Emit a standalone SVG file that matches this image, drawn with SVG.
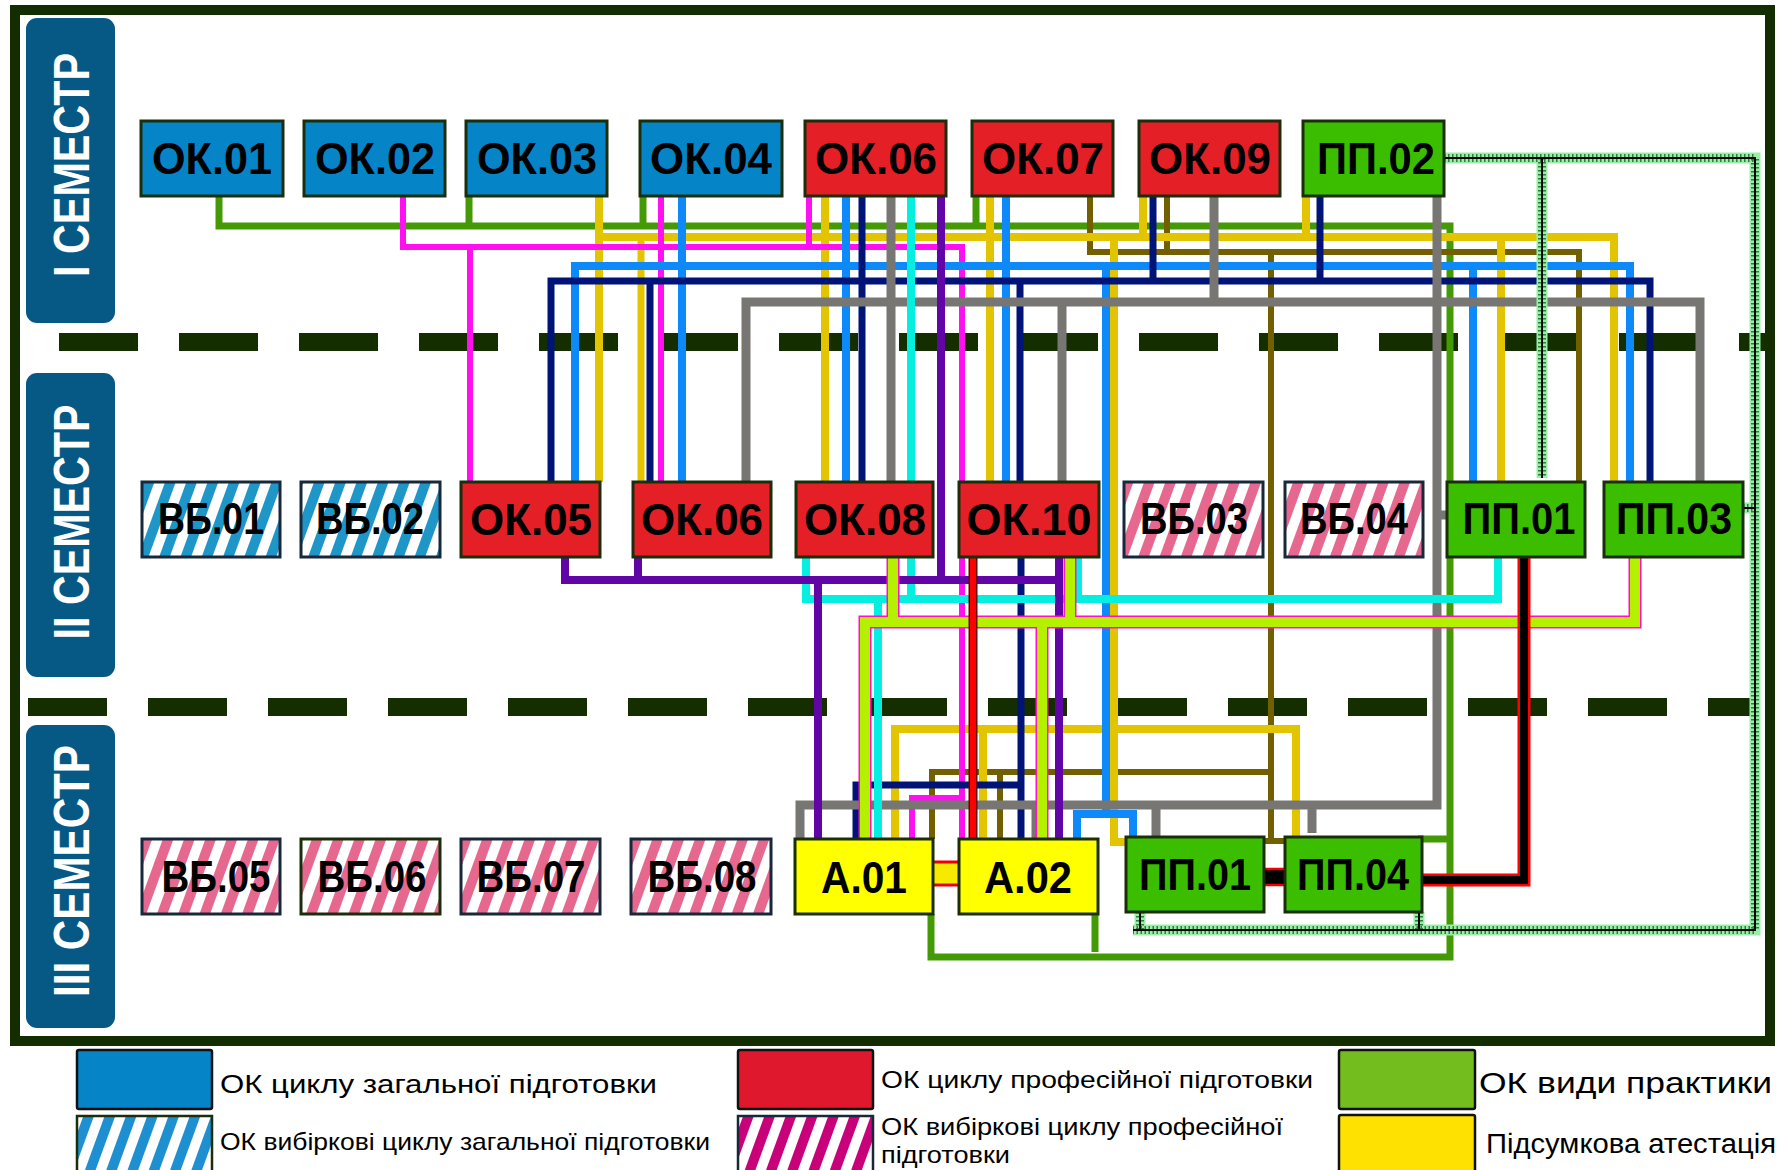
<svg xmlns="http://www.w3.org/2000/svg" width="1783" height="1170" viewBox="0 0 1783 1170">
<defs>
<pattern id="hb" patternUnits="userSpaceOnUse" width="20" height="20" patternTransform="rotate(20)"><rect width="20" height="20" fill="#fff"/><rect width="10" height="20" fill="#1e96c8"/></pattern>
<pattern id="hp" patternUnits="userSpaceOnUse" width="20" height="20" patternTransform="rotate(20)"><rect width="20" height="20" fill="#fff"/><rect width="10" height="20" fill="#e6688e"/></pattern>
<pattern id="hb2" patternUnits="userSpaceOnUse" width="20" height="20" patternTransform="rotate(20)"><rect width="20" height="20" fill="#fff"/><rect width="10" height="20" fill="#1e8fd0"/></pattern>
<pattern id="hm2" patternUnits="userSpaceOnUse" width="20" height="20" patternTransform="rotate(20)"><rect width="20" height="20" fill="#fff"/><rect width="10" height="20" fill="#c8007a"/></pattern>
</defs>
<style>
.box{stroke:#1b2e0b;stroke-width:3}
.bl{fill:#0584c8}.rd{fill:#e41f26}.gn{fill:#3cbe00}.yl{fill:#ffff00}
.vb{fill:url(#hb);stroke:#16283a;stroke-width:3}
.vp{fill:url(#hp);stroke:#16283a;stroke-width:3}
.lbl{font-family:"Liberation Sans",Arial,sans-serif;font-weight:bold;font-size:44px;fill:#000;text-anchor:middle}
.sem{fill:#075985}
.semt{font-family:"Liberation Sans",Arial,sans-serif;font-weight:bold;font-size:50px;fill:#fff;text-anchor:middle}
.dash{stroke:#152e00;stroke-width:18;stroke-dasharray:79 41;fill:none}
.ln{fill:none;stroke-linecap:butt;stroke-linejoin:miter}
.g{stroke:#449a04;stroke-width:7}
.m{stroke:#ff10f0;stroke-width:6}
.y{stroke:#e2c400;stroke-width:8}
.b{stroke:#0d89f9;stroke-width:8}
.n{stroke:#001478;stroke-width:7}
.gr{stroke:#777673;stroke-width:9}
.c{stroke:#05efe1;stroke-width:8}
.p{stroke:#6205a6;stroke-width:8}
.o{stroke:#726000;stroke-width:6}
.lo{stroke:#ff10c8;stroke-width:13}
.li{stroke:#b4f000;stroke-width:10}
.ro{stroke:#600;stroke-width:9}
.ri{stroke:#ff0000;stroke-width:6}
.ko{stroke:#ff0000;stroke-width:13}
.ki{stroke:#000;stroke-width:8}
.h1{stroke:#98f0a6;stroke-width:11}
.h2{stroke:#2e7d3e;stroke-width:8;stroke-dasharray:1.5 2.5}
.h3{stroke:#000;stroke-width:2}
.leg{font-family:"Liberation Sans",Arial,sans-serif;fill:#000}
.lgb{stroke:#111;stroke-width:2.5}
</style>
<rect x="0" y="0" width="1783" height="1170" fill="#fff"/>
<rect x="15" y="10" width="1755" height="1031" fill="#fff" stroke="#142d00" stroke-width="10"/>

<g id="semesters">
<g id="sem1"><rect class="sem" x="26" y="18" width="89" height="305" rx="11"/><text class="semt" transform="translate(89,165) rotate(-90)" textLength="224" lengthAdjust="spacingAndGlyphs">I СЕМЕСТР</text></g>
<g id="sem2"><rect class="sem" x="26" y="373" width="89" height="304" rx="11"/><text class="semt" transform="translate(89,522) rotate(-90)" textLength="235" lengthAdjust="spacingAndGlyphs">II СЕМЕСТР</text></g>
<g id="sem3"><rect class="sem" x="26" y="725" width="89" height="303" rx="11"/><text class="semt" transform="translate(89,871) rotate(-90)" textLength="252" lengthAdjust="spacingAndGlyphs">III СЕМЕСТР</text></g>
</g>

<g id="dividers">
<line class="dash" x1="59" y1="342" x2="1767" y2="342"/>
<line class="dash" x1="28" y1="707" x2="1750" y2="707"/>
</g>

<g id="connectors" class="ln">
<path class="ln g" d="M219,196 V226 H1450 V957 H931 V914 M469,196 V226 M643,196 V226 M976,196 V226 M1095,914 V952 M1418,839 H1450"/>
<path class="ln o" d="M1090,196 V252 H1579 V482 M1167,196 V252 M1271,252 V842 M1257,841 H1287 M932,839 V772 H1271 M1000,772 V839"/>
<path class="ln y" d="M599,196 V482 M599,237 H1614 V482 M825,196 V482 M990,196 V482 M1143,196 V237 M1306,196 V237 M1501,237 V482 M1114,237 V842 H1128 M895,840 V729 H1296 V837 M983,729 V840"/>
<path class="ln y" style="stroke-width:7" d="M641,237 V482"/>
<path class="ln m" d="M403,196 V247 H962 V840 M470,247 V482 M809,196 V247 M661,196 V482 M962,798 H912 V840"/>
<path class="ln b" d="M682,196 V482 M846,196 V482 M1006,196 V482 M575,482 V266 H1630 V482 M1473,266 V482 M1106,266 V814 M1077,840 V814 H1133 V838"/>
<path class="ln n" d="M551,482 V281 H1650 V482 M650,281 V482 M862,196 V482 M1020,281 V482 M1153,196 V281 M1320,196 V281 M1021,557 V840 M1021,785 H856 V843"/>
<path class="ln gr" d="M746,482 V302 H1700 V482 M891,196 V482 M1062,302 V482 M1214,196 V302 M1437,196 V805 H800 V839 M1036,805 V840 M1156,805 V836 M1312,805 V833 M1437,515 H1448"/>
<path class="ln c" d="M911,196 V482 M806,557 V599 H1498 V557 M911,557 V599 M1078,557 V599 M878,599 V843"/>
<path class="ln p" d="M941,196 V580 M565,557 V580 H1062 M638,557 V580 M818,580 V840 M1059,557 V842"/>
<path class="ln lo" d="M893,557 V622 M865,843 V622 H1635 V557 M1042,622 V842 M1070,557 V622"/>
<path class="ln li" d="M893,557 V622 M865,843 V622 H1635 V557 M1042,622 V842 M1070,557 V622"/>
<path class="ln ro" d="M973,555 V840"/>
<path class="ln ri" d="M973,555 V840"/>
<path class="ln ko" d="M1524,557 V880 H1422"/>
<path class="ln ki" d="M1524,557 V880 H1422"/>
<path class="ln h1" d="M1444,158 H1755 V930 H1133 M1140,912 V930 M1419,912 V930 M1542,158 V478 M1743,508 H1755"/>
<path class="ln h2" d="M1444,158 H1755 V930 H1133 M1140,912 V930 M1419,912 V930 M1542,158 V478 M1743,508 H1755"/>
<path class="ln h3" d="M1444,158 H1755 V930 H1133 M1140,912 V930 M1419,912 V930 M1542,158 V478 M1743,508 H1755"/>
<rect x="930" y="862" width="34" height="23" rx="3" fill="#f5ea00" stroke="#e00" stroke-width="3"/>
<rect x="1259" y="869" width="28" height="16" rx="2" fill="#000" stroke="#e00" stroke-width="2.5"/>
</g>

<g id="nodes">
<g id="OK01"><rect class="box bl" x="141" y="121" width="142" height="75"/><text class="lbl" x="212" y="174" textLength="120" lengthAdjust="spacingAndGlyphs">ОК.01</text></g>
<g id="OK02"><rect class="box bl" x="304" y="121" width="141" height="75"/><text class="lbl" x="375" y="174" textLength="120" lengthAdjust="spacingAndGlyphs">ОК.02</text></g>
<g id="OK03"><rect class="box bl" x="466" y="121" width="141" height="75"/><text class="lbl" x="537" y="174" textLength="120" lengthAdjust="spacingAndGlyphs">ОК.03</text></g>
<g id="OK04"><rect class="box bl" x="640" y="121" width="142" height="75"/><text class="lbl" x="711" y="174" textLength="122" lengthAdjust="spacingAndGlyphs">ОК.04</text></g>
<g id="OK06a"><rect class="box rd" x="805" y="121" width="141" height="75"/><text class="lbl" x="876" y="174" textLength="122" lengthAdjust="spacingAndGlyphs">ОК.06</text></g>
<g id="OK07"><rect class="box rd" x="972" y="121" width="141" height="75"/><text class="lbl" x="1043" y="174" textLength="122" lengthAdjust="spacingAndGlyphs">ОК.07</text></g>
<g id="OK09"><rect class="box rd" x="1139" y="121" width="141" height="75"/><text class="lbl" x="1210" y="174" textLength="122" lengthAdjust="spacingAndGlyphs">ОК.09</text></g>
<g id="PP02"><rect class="box gn" x="1303" y="121" width="141" height="75"/><text class="lbl" x="1376" y="174" textLength="118" lengthAdjust="spacingAndGlyphs">ПП.02</text></g>

<g id="VB01"><rect class="vb" x="142" y="482" width="138" height="75"/><text class="lbl" x="211" y="534" textLength="106" lengthAdjust="spacingAndGlyphs">ВБ.01</text></g>
<g id="VB02"><rect class="vb" x="301" y="482" width="139" height="75"/><text class="lbl" x="370" y="534" textLength="108" lengthAdjust="spacingAndGlyphs">ВБ.02</text></g>
<g id="OK05"><rect class="box rd" x="461" y="482" width="139" height="75"/><text class="lbl" x="531" y="535" textLength="122" lengthAdjust="spacingAndGlyphs">ОК.05</text></g>
<g id="OK06b"><rect class="box rd" x="633" y="482" width="138" height="75"/><text class="lbl" x="702" y="535" textLength="122" lengthAdjust="spacingAndGlyphs">ОК.06</text></g>
<g id="OK08"><rect class="box rd" x="796" y="482" width="137" height="75"/><text class="lbl" x="865" y="535" textLength="122" lengthAdjust="spacingAndGlyphs">ОК.08</text></g>
<g id="OK10"><rect class="box rd" x="959" y="482" width="140" height="75"/><text class="lbl" x="1029" y="535" textLength="125" lengthAdjust="spacingAndGlyphs">ОК.10</text></g>
<g id="VB03"><rect class="vp" x="1124" y="482" width="139" height="75"/><text class="lbl" x="1194" y="534" textLength="108" lengthAdjust="spacingAndGlyphs">ВБ.03</text></g>
<g id="VB04"><rect class="vp" x="1285" y="482" width="138" height="75"/><text class="lbl" x="1354" y="534" textLength="108" lengthAdjust="spacingAndGlyphs">ВБ.04</text></g>
<g id="PP01a"><rect class="box gn" x="1447" y="482" width="138" height="75"/><text class="lbl" x="1519" y="534" textLength="113" lengthAdjust="spacingAndGlyphs">ПП.01</text></g>
<g id="PP03"><rect class="box gn" x="1604" y="482" width="139" height="75"/><text class="lbl" x="1674" y="534" textLength="116" lengthAdjust="spacingAndGlyphs">ПП.03</text></g>

<g id="VB05"><rect class="vp" x="142" y="839" width="138" height="75"/><text class="lbl" x="216" y="892" textLength="109" lengthAdjust="spacingAndGlyphs">ВБ.05</text></g>
<g id="VB06"><rect class="vp" x="301" y="839" width="139" height="75" style="stroke:#1b2e0b"/><text class="lbl" x="372" y="892" textLength="109" lengthAdjust="spacingAndGlyphs">ВБ.06</text></g>
<g id="VB07"><rect class="vp" x="461" y="839" width="139" height="75"/><text class="lbl" x="531" y="892" textLength="109" lengthAdjust="spacingAndGlyphs">ВБ.07</text></g>
<g id="VB08"><rect class="vp" x="631" y="839" width="140" height="75"/><text class="lbl" x="702" y="892" textLength="109" lengthAdjust="spacingAndGlyphs">ВБ.08</text></g>
<g id="A01"><rect class="box yl" x="795" y="839" width="138" height="75"/><text class="lbl" x="864" y="893" textLength="86" lengthAdjust="spacingAndGlyphs">А.01</text></g>
<g id="A02"><rect class="box yl" x="959" y="839" width="139" height="75"/><text class="lbl" x="1028" y="893" textLength="88" lengthAdjust="spacingAndGlyphs">А.02</text></g>
<g id="PP01b"><rect class="box gn" x="1126" y="837" width="138" height="75"/><text class="lbl" x="1195" y="890" textLength="112" lengthAdjust="spacingAndGlyphs">ПП.01</text></g>
<g id="PP04"><rect class="box gn" x="1285" y="837" width="137" height="75"/><text class="lbl" x="1353" y="890" textLength="112" lengthAdjust="spacingAndGlyphs">ПП.04</text></g>
</g>

<g id="legend">
<rect class="lgb" x="77" y="1050" width="135" height="59" fill="#0584c8" rx="2"/>
<text class="leg" x="220" y="1093" font-size="26" textLength="437" lengthAdjust="spacingAndGlyphs">ОК циклу загальної  підготовки</text>
<rect x="77" y="1116" width="135" height="58" fill="url(#hb2)" stroke="#1b2e0b" stroke-width="2.5"/>
<text class="leg" x="220" y="1150" font-size="24" textLength="490" lengthAdjust="spacingAndGlyphs">ОК вибіркові циклу загальної підготовки</text>
<rect class="lgb" x="738" y="1050" width="135" height="59" fill="#e0182d" rx="2"/>
<text class="leg" x="881" y="1088" font-size="24" textLength="432" lengthAdjust="spacingAndGlyphs">ОК циклу професійної підготовки</text>
<rect x="738" y="1116" width="135" height="58" fill="url(#hm2)" stroke="#16283a" stroke-width="2.5"/>
<text class="leg" x="881" y="1135" font-size="24" textLength="402" lengthAdjust="spacingAndGlyphs">ОК вибіркові циклу професійної</text>
<text class="leg" x="881" y="1163" font-size="24" textLength="129" lengthAdjust="spacingAndGlyphs">підготовки</text>
<rect class="lgb" x="1339" y="1050" width="136" height="59" fill="#73be1e" rx="2"/>
<text class="leg" x="1479" y="1093" font-size="30" textLength="293" lengthAdjust="spacingAndGlyphs">ОК види практики</text>
<rect class="lgb" x="1339" y="1115" width="136" height="59" fill="#ffe100" rx="2"/>
<text class="leg" x="1486" y="1153" font-size="27" textLength="290" lengthAdjust="spacingAndGlyphs">Підсумкова атестація</text>
</g>
</svg>
